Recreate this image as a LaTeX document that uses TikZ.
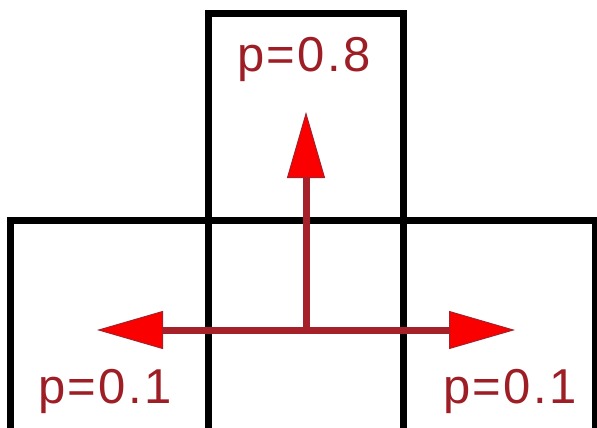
\documentclass[tikz,border=0pt]{standalone}
\usepackage{fontspec}
\setmainfont{Liberation Sans}
\usetikzlibrary{arrows.meta}
\definecolor{shaftred}{RGB}{165,32,40}
\definecolor{textred}{RGB}{158,30,38}
\definecolor{headred}{RGB}{250,0,0}
\begin{document}
\begin{tikzpicture}[x=1pt,y=-1pt,
  cell/.style={draw=black,line width=6.5pt,inner sep=0pt,outer sep=0pt},
  prob/.style={text=textred,anchor=base,inner sep=0pt,font=\fontsize{49}{58}\selectfont\addfontfeature{LetterSpace=5}},
  move/.style={draw=shaftred,line width=7pt,-{Triangle[length=66pt,width=38pt,fill=headred,line width=1pt]}}]
\useasboundingbox (0,0) rectangle (597,428);
\node[cell,minimum width=195pt,minimum height=207pt] (top) at (306,117.2) {};
\node[cell,minimum width=198.2pt,minimum height=210.5pt] (left) at (109.4,325.95) {};
\node[cell,minimum width=195pt,minimum height=210.5pt] (mid) at (306,325.95) {};
\node[cell,minimum width=192pt,minimum height=210.5pt] (right) at (499.5,325.95) {};
\coordinate (o) at (306,330);
\coordinate (up) at (306,112);
\coordinate (lt) at (97,330);
\coordinate (rt) at (515,330);
\draw[move] (o) -- (up);
\draw[move] (o) -- (lt);
\draw[move] (o) -- (rt);
\node[prob] (pu) at (304,72) {p=0.8};
\node[prob] (pl) at (105,403) {p=0.1};
\node[prob] (pr) at (510,403) {p=0.1};
\end{tikzpicture}
\end{document}
